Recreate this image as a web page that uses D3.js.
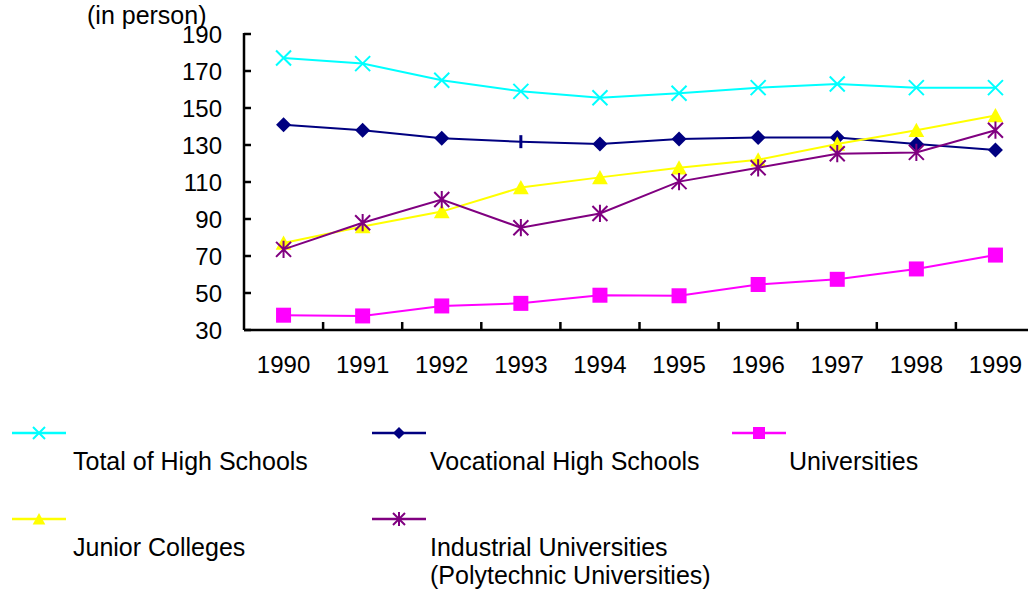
<!DOCTYPE html>
<html>
<head>
<meta charset="utf-8">
<script src="https://cdn.jsdelivr.net/npm/d3@7"></script>
<style>
  html, body { margin: 0; padding: 0; background: #fff; }
  svg { display: block; }
  text { font-family: "Liberation Sans", Arial, sans-serif; fill: #000; }
</style>
</head>
<body>
<svg id="chart" width="1028" height="596"></svg>
<script>
// Enrolment figures, 1990-1999 (in person)
const years = ["1990", "1991", "1992", "1993", "1994", "1995", "1996", "1997", "1998", "1999"];
const totalHighSchools      = [177, 174, 165, 159, 155.5, 158, 161, 163, 161, 161];
const vocationalHighSchools = [141, 138, 133.6, 131.8, 130.5, 133.2, 134, 134, 130.5, 127.3];
const universities          = [38, 37.6, 43, 44.4, 48.8, 48.5, 54.6, 57.4, 63, 70.5];
const juniorColleges        = [77, 86, 94, 107, 112.5, 117.7, 122, 130.5, 138, 146];
const industrialUniversities = [73.6, 88, 100.5, 85.3, 93, 110.2, 117.7, 125.3, 126, 138];
const yTicks = [30, 50, 70, 90, 110, 130, 150, 170, 190];

const series = [
  { name: ["Total of High Schools"], values: totalHighSchools, color: "#00FFFF", marker: "x" },
  { name: ["Vocational High Schools"], values: vocationalHighSchools, color: "#000080", marker: "diamond", override: { 3: "bar" } },
  { name: ["Universities"], values: universities, color: "#FF00FF", marker: "square" },
  { name: ["Junior Colleges"], values: juniorColleges, color: "#FFFF00", marker: "triangle" },
  { name: ["Industrial Universities", "(Polytechnic Universities)"], values: industrialUniversities, color: "#800080", marker: "star" }
];

const svg = d3.select("#chart");

const x = d3.scaleBand().domain(years).range([244, 1035]).padding(0);
const y = d3.scaleLinear().domain([30, 190]).range([330, 34]);
const cx = d => x(d) + x.bandwidth() / 2;

// marker drawing, s = half size
function drawMarker(g, type, px, py, color, s) {
  if (type === "x") {
    g.append("path")
      .attr("d", `M${px - s},${py - s}L${px + s},${py + s}M${px - s},${py + s}L${px + s},${py - s}`)
      .attr("stroke", color).attr("stroke-width", 2).attr("fill", "none");
  } else if (type === "star") {
    g.append("path")
      .attr("d", `M${px - s},${py - s}L${px + s},${py + s}M${px - s},${py + s}L${px + s},${py - s}M${px},${py - s * 1.15}L${px},${py + s * 1.15}`)
      .attr("stroke", color).attr("stroke-width", 2).attr("fill", "none");
  } else if (type === "diamond") {
    g.append("path")
      .attr("d", `M${px},${py - s}L${px + s},${py}L${px},${py + s}L${px - s},${py}Z`)
      .attr("fill", color);
  } else if (type === "square") {
    g.append("rect")
      .attr("x", px - s).attr("y", py - s).attr("width", 2 * s).attr("height", 2 * s)
      .attr("fill", color);
  } else if (type === "triangle") {
    g.append("path")
      .attr("d", `M${px},${py - s}L${px + s * 1.05},${py + s * 0.9}L${px - s * 1.05},${py + s * 0.9}Z`)
      .attr("fill", color);
  } else if (type === "bar") {
    g.append("path")
      .attr("d", `M${px},${py - s}L${px},${py + s}`)
      .attr("stroke", color).attr("stroke-width", 3);
  }
}

// axes
const axisG = svg.append("g");
axisG.append("line")
  .attr("x1", x.range()[0]).attr("x2", x.range()[0])
  .attr("y1", y(190) - 1).attr("y2", y(30))
  .attr("stroke", "#000").attr("stroke-width", 2.5);
axisG.append("line")
  .attr("x1", x.range()[0]).attr("x2", x.range()[1])
  .attr("y1", y(30)).attr("y2", y(30))
  .attr("stroke", "#000").attr("stroke-width", 2.5);

// y ticks point inward
axisG.selectAll(".ytick").data(yTicks).join("line")
  .attr("x1", x.range()[0]).attr("x2", x.range()[0] + 7)
  .attr("y1", d => y(d)).attr("y2", d => y(d))
  .attr("stroke", "#000").attr("stroke-width", 2.5);
axisG.selectAll(".ylabel").data(yTicks).join("text")
  .attr("x", 222).attr("y", d => y(d))
  .attr("dy", "0.36em")
  .attr("text-anchor", "end")
  .attr("font-size", 24)
  .text(d => d);

// x ticks between categories
axisG.selectAll(".xtick").data(years.slice(1)).join("line")
  .attr("x1", d => x(d)).attr("x2", d => x(d))
  .attr("y1", y(30)).attr("y2", y(30) - 8)
  .attr("stroke", "#000").attr("stroke-width", 2.5);
axisG.selectAll(".xlabel").data(years).join("text")
  .attr("x", d => cx(d)).attr("y", 373)
  .attr("text-anchor", "middle")
  .attr("font-size", 24)
  .text(d => d);

svg.append("text")
  .attr("x", 87).attr("y", 24)
  .attr("font-size", 25)
  .text("(in person)");

// lines + markers
const line = d3.line().x((d, i) => cx(years[i])).y(d => y(d));
series.forEach(s => {
  const g = svg.append("g");
  g.append("path")
    .attr("d", line(s.values))
    .attr("fill", "none")
    .attr("stroke", s.color)
    .attr("stroke-width", 2);
  s.values.forEach((v, i) => {
    const type = (s.override && s.override[i]) || s.marker;
    drawMarker(g, type, cx(years[i]), y(v), s.color, type === "bar" ? 6.5 : 7.5);
  });
});

// legend
const legendPos = [
  { lx: 12, ly: 433, tx: 73, ty: 470 },
  { lx: 372, ly: 433, tx: 430, ty: 470 },
  { lx: 732, ly: 433, tx: 789, ty: 470 },
  { lx: 12, ly: 519, tx: 73, ty: 556 },
  { lx: 372, ly: 519, tx: 430, ty: 556 }
];
series.forEach((s, i) => {
  const p = legendPos[i];
  const g = svg.append("g");
  g.append("line")
    .attr("x1", p.lx).attr("x2", p.lx + 54)
    .attr("y1", p.ly).attr("y2", p.ly)
    .attr("stroke", s.color).attr("stroke-width", 2.5);
  drawMarker(g, s.marker, p.lx + 27, p.ly, s.color, 6);
  const t = g.append("text")
    .attr("x", p.tx).attr("y", p.ty)
    .attr("font-size", 25);
  s.name.forEach((n, k) => {
    t.append("tspan").attr("x", p.tx).attr("dy", k === 0 ? 0 : 28).text(n);
  });
});
</script>
</body>
</html>
